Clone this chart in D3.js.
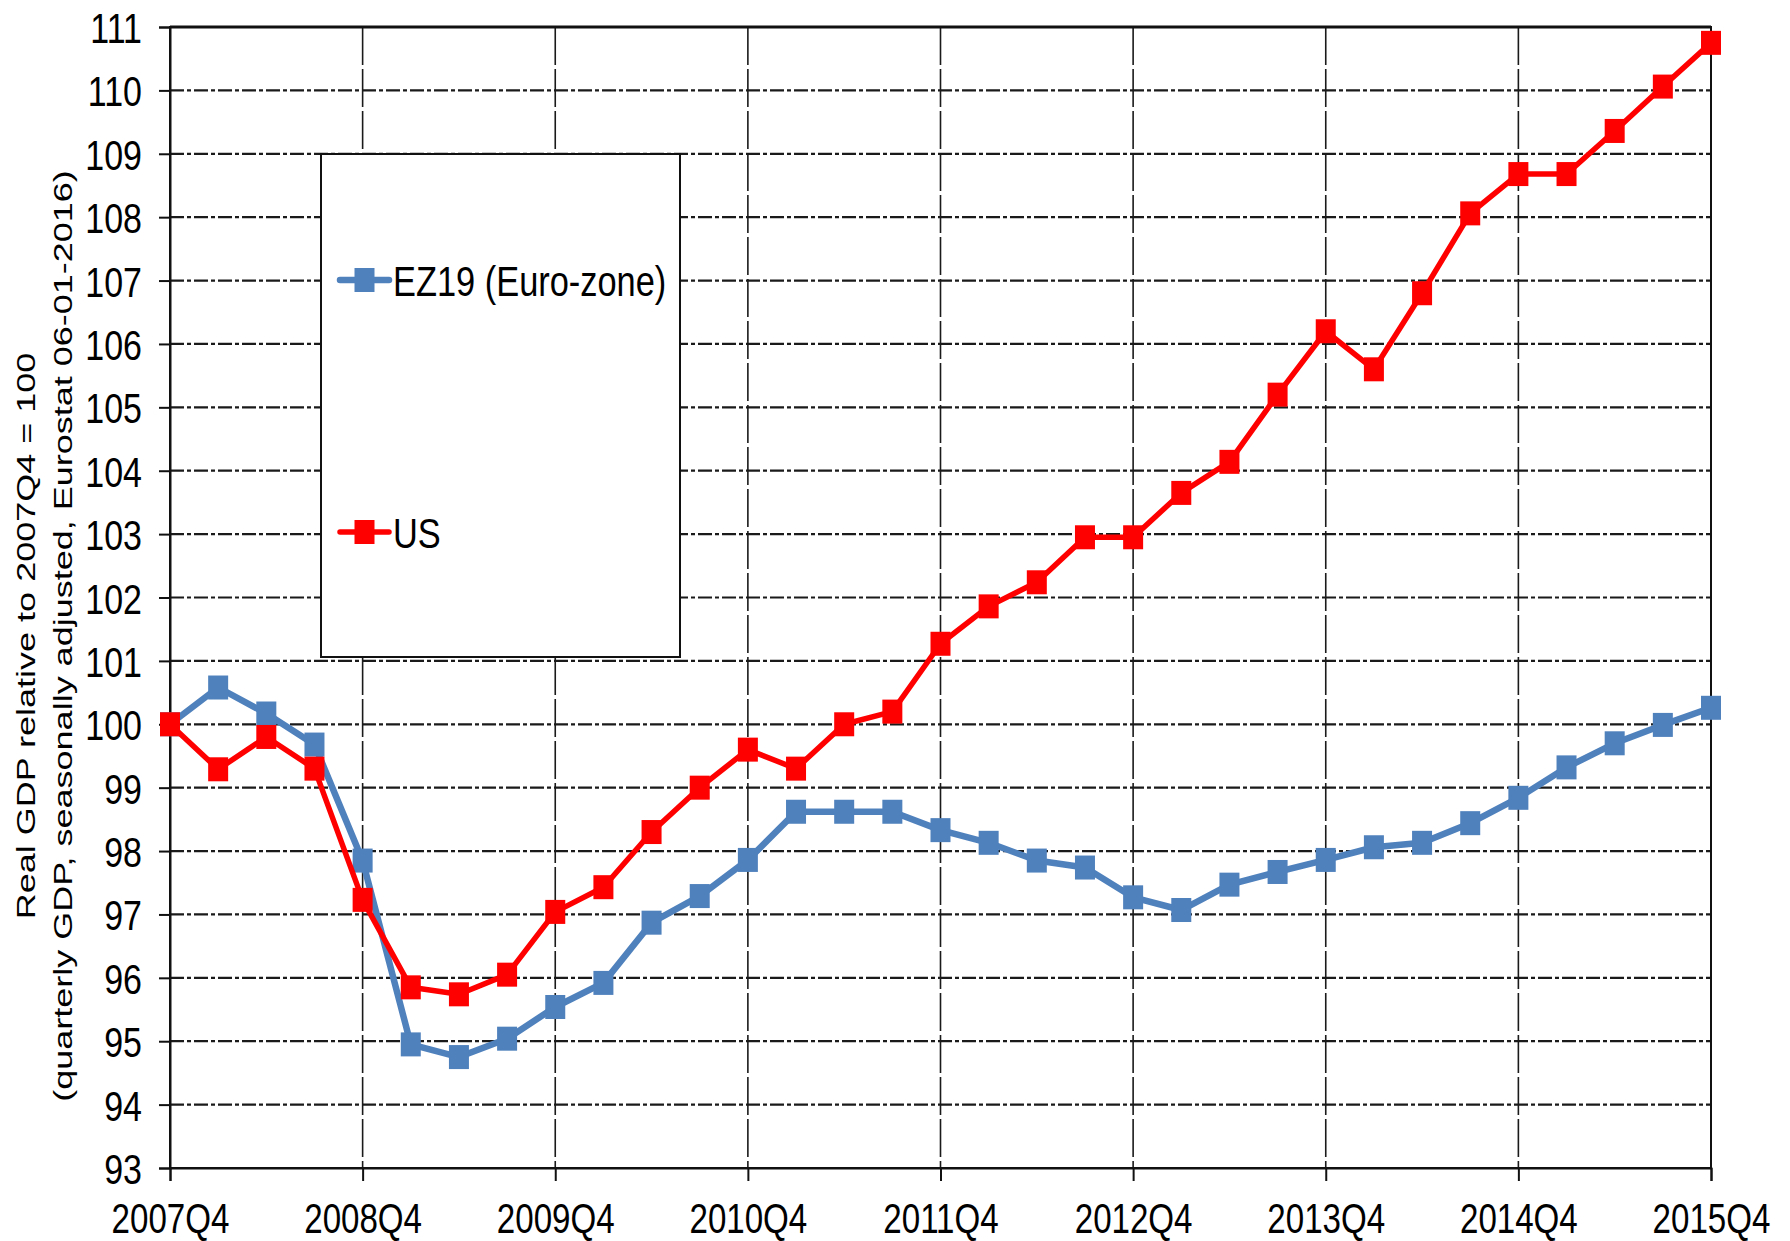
<!DOCTYPE html>
<html>
<head>
<meta charset="utf-8">
<script src="https://cdn.jsdelivr.net/npm/d3@7"></script>
<style>
html,body{margin:0;padding:0;background:#fff;}
svg{display:block;}
text{font-family:"Liberation Sans",Arial,sans-serif;fill:#000;}
</style>
</head>
<body>
<svg id="chart" width="1790" height="1241"></svg>
<script>
// ---- data ----
const quarters = ["2007Q4","2008Q1","2008Q2","2008Q3","2008Q4","2009Q1","2009Q2","2009Q3","2009Q4",
  "2010Q1","2010Q2","2010Q3","2010Q4","2011Q1","2011Q2","2011Q3","2011Q4","2012Q1","2012Q2","2012Q3",
  "2012Q4","2013Q1","2013Q2","2013Q3","2013Q4","2014Q1","2014Q2","2014Q3","2014Q4","2015Q1","2015Q2",
  "2015Q3","2015Q4"];
const ezValues = [100.0,100.58,100.17,99.68,97.85,94.95,94.75,95.04,95.54,95.92,96.87,97.29,97.86,
  98.62,98.62,98.62,98.33,98.13,97.85,97.74,97.27,97.07,97.47,97.67,97.86,98.06,98.13,98.44,98.84,
  99.32,99.70,99.99,100.26];
const usValues = [100.0,99.29,99.80,99.30,97.23,95.85,95.74,96.05,97.04,97.43,98.30,99.00,99.60,
  99.30,100.0,100.20,101.27,101.86,102.24,102.95,102.95,103.65,104.14,105.20,106.20,105.60,106.80,
  108.06,108.68,108.68,109.36,110.06,110.75];
const xTickLabels = ["2007Q4","2008Q4","2009Q4","2010Q4","2011Q4","2012Q4","2013Q4","2014Q4","2015Q4"];
const yTicks = [93,94,95,96,97,98,99,100,101,102,103,104,105,106,107,108,109,110,111];
const seriesNames = ["EZ19 (Euro-zone)","US"];
const yTitleLines = ["Real GDP relative to 2007Q4 = 100",
  "(quarterly GDP, seasonally adjusted, Eurostat 06-01-2016)"];

// ---- layout ----
const L = 170, R = 1711, T = 27, B = 1168;
const SX = 0.77; // horizontal text squeeze
const svg = d3.select("#chart");
const x = d3.scaleLinear().domain([0, quarters.length - 1]).range([L, R]);
const y = d3.scaleLinear().domain([93, 111]).range([B, T]);
const colors = {ez: "#4F81BD", us: "#FF0000"};

// horizontal grid lines
svg.append("g").selectAll("line").data(yTicks.filter(v => v !== 93 && v !== 111)).join("line")
  .attr("x1", L).attr("x2", R).attr("y1", d => y(d)).attr("y2", d => y(d))
  .attr("stroke", "#1a1a1a").attr("stroke-width", 2.2).attr("stroke-dasharray", "14,3,4,3");

// vertical grid lines at each year
const yearIdx = xTickLabels.map(l => quarters.indexOf(l));
svg.append("g").selectAll("line").data(yearIdx.filter(i => i !== 0 && i !== quarters.length - 1)).join("line")
  .attr("x1", d => x(d)).attr("x2", d => x(d)).attr("y1", T).attr("y2", B)
  .attr("stroke", "#1a1a1a").attr("stroke-width", 1.6).attr("stroke-dasharray", "38,4");

// border / axes
svg.append("rect").attr("x", L).attr("y", T).attr("width", R - L).attr("height", B - T)
  .attr("fill", "none").attr("stroke", "#111").attr("stroke-width", 2);
svg.append("line").attr("x1", L).attr("x2", R).attr("y1", T).attr("y2", T)
  .attr("stroke", "#111").attr("stroke-width", 3);

// y axis with d3 axis
const yAxis = d3.axisLeft(y).tickValues(yTicks).tickSize(11).tickFormat(d3.format("d"));
const gy = svg.append("g").attr("transform", `translate(${L},0)`).call(yAxis);
gy.select(".domain").attr("stroke", "#111").attr("stroke-width", 2);
gy.selectAll(".tick line").attr("stroke", "#111").attr("stroke-width", 2);
gy.selectAll(".tick text").remove();
gy.selectAll(".tick").append("g")
  .attr("transform", `translate(-28,15.5) scale(0.79,1)`)
  .append("text").attr("text-anchor", "end").attr("font-size", 43)
  .text(d => d3.format("d")(d));

// x axis with d3 axis
const xAxis = d3.axisBottom(x).tickValues(yearIdx).tickSize(13).tickFormat(i => quarters[i]);
const gx = svg.append("g").attr("transform", `translate(0,${B})`).call(xAxis);
gx.select(".domain").attr("stroke", "#111").attr("stroke-width", 2);
gx.selectAll(".tick line").attr("stroke", "#111").attr("stroke-width", 2);
gx.selectAll(".tick text").remove();
gx.selectAll(".tick").append("g")
  .attr("transform", `translate(0,65) scale(${SX},1)`)
  .append("text").attr("text-anchor", "middle").attr("font-size", 43)
  .text(i => quarters[i]);

// y axis title
yTitleLines.forEach((t, i) => {
  svg.append("g").attr("transform", `translate(${i === 0 ? 35 : 72},636) scale(0.72,1) rotate(-90)`)
    .append("text").attr("text-anchor", "middle").attr("font-size", 36).text(t);
});

// series
const series = [
  {key: "ez", values: ezValues, width: 6.5},
  {key: "us", values: usValues, width: 5.5}
];
const line = d3.line().x((d, i) => x(i)).y(d => y(d));
const MW = 20, MH = 24;
series.forEach(s => {
  const g = svg.append("g");
  g.append("path").datum(s.values).attr("d", line).attr("fill", "none")
    .attr("stroke", colors[s.key]).attr("stroke-width", s.width).attr("stroke-linejoin", "round");
  g.selectAll("rect").data(s.values).join("rect")
    .attr("x", (d, i) => x(i) - MW / 2).attr("y", d => y(d) - MH / 2)
    .attr("width", MW).attr("height", MH).attr("fill", colors[s.key]);
});

// legend
const lg = svg.append("g");
lg.append("rect").attr("x", 321).attr("y", 154).attr("width", 359).attr("height", 503)
  .attr("fill", "#fff").attr("stroke", "#111").attr("stroke-width", 2);
const legendY = [280, 532];
series.forEach((s, i) => {
  const cy = legendY[i];
  lg.append("line").attr("x1", 340).attr("x2", 389).attr("y1", cy).attr("y2", cy)
    .attr("stroke", colors[s.key]).attr("stroke-width", s.width).attr("stroke-linecap", "round");
  lg.append("rect").attr("x", 364.5 - MW / 2).attr("y", cy - MH / 2).attr("width", MW).attr("height", MH)
    .attr("fill", colors[s.key]);
  lg.append("g").attr("transform", `translate(393,${cy + 15.5}) scale(0.8,1)`)
    .append("text").attr("font-size", 43).text(seriesNames[i]);
});
</script>
</body>
</html>
